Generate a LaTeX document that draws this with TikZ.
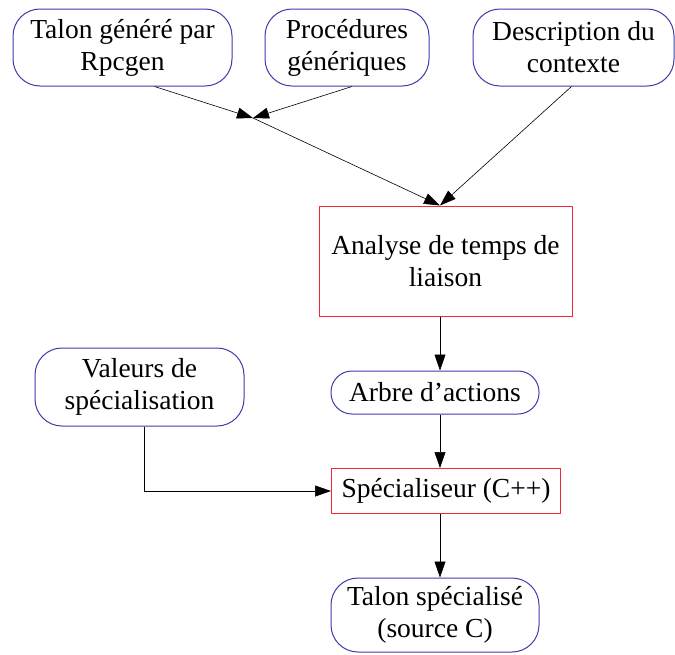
\documentclass[tikz,border=0pt]{standalone}
\usepackage{fontspec}
\setmainfont{Liberation Serif}
\usepackage{tikz}
\usetikzlibrary{arrows.meta,positioning,calc}
\definecolor{boxblue}{RGB}{60,60,170}
\definecolor{boxred}{RGB}{240,40,50}

\begin{document}
\begin{tikzpicture}[x=1pt,y=-1pt,
  >={Triangle[length=16pt,width=11pt]},
  every node/.style={font=\fontsize{27.5}{32}\selectfont, align=center, inner sep=0pt},
  data/.style={draw=boxblue, line width=1pt, rounded corners=27pt},
  stage/.style={draw=boxred, line width=1pt}]

\useasboundingbox (0,0) rectangle (675,654);

%inputs
\node[data, minimum width=219pt, minimum height=77pt] (talon) at (122.5,47.5) {Talon généré par\\Rpcgen};
\node[data, minimum width=164pt, minimum height=77pt] (gen) at (347,47.5) {Procédures\\génériques};
\node[data, minimum width=201pt, minimum height=77pt] (desc) at (573.5,47.5) {Description du\\contexte};

%analysis
\node[stage, minimum width=253pt, minimum height=110pt] (ana) at (445.5,261) {Analyse de temps de\\liaison};
\node[data, minimum width=208pt, minimum height=43pt, rounded corners=21pt] (arbre) at (435,392.5) {Arbre d’actions};

%specialisation
\node[data, minimum width=209pt, minimum height=78pt] (val) at (139.5,387) {Valeurs de\\spécialisation};
\node[stage, minimum width=229pt, minimum height=45pt] (spec) at (446,491) {Spécialiseur (C++)};
\node[data, minimum width=208pt, minimum height=74pt] (res) at (435,615) {Talon spécialisé\\(source C)};

\coordinate (merge) at (253,118);
\coordinate (col) at (440,0);

%arrows
\draw[->, line width=0.6pt] ($(talon.south)+(32,0)$) -- (merge);
\draw[->, line width=0.6pt] ($(gen.south)+(5,0)$) -- (merge);
\draw[->, line width=0.6pt] (merge) -- (ana.north -| col);
\draw[->, line width=0.6pt] ($(desc.south)+(-2,0)$) -- (ana.north -| col);
\draw[->, line width=0.6pt] (ana.south -| col) -- (arbre.north -| col);
\draw[->, line width=0.6pt] (arbre.south -| col) -- (spec.north -| col);
\draw[->, line width=0.6pt] ($(val.south)+(5,0)$) |- (spec.west);
\draw[->, line width=0.6pt] (spec.south -| col) -- (res.north -| col);

\end{tikzpicture}
\end{document}
